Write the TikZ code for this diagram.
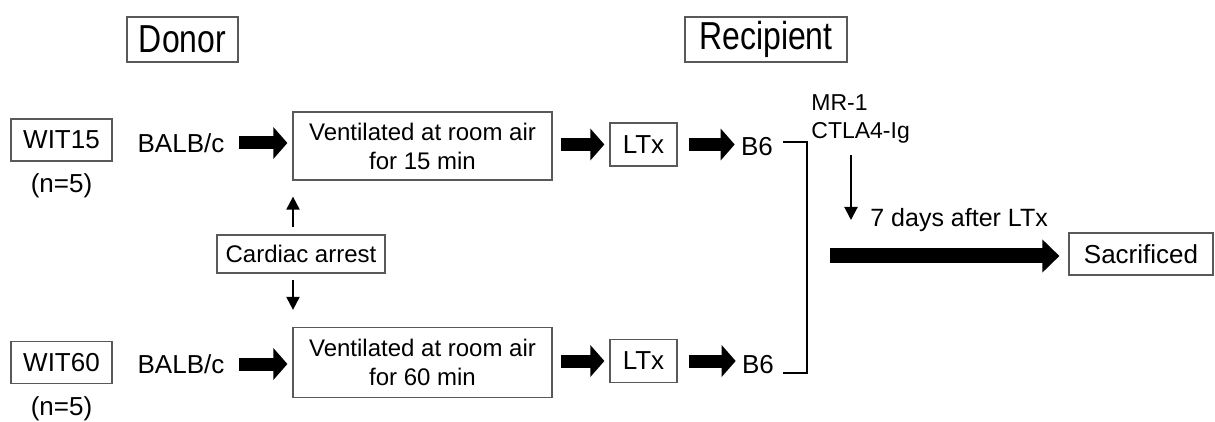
\documentclass[tikz,border=0pt]{standalone}
\usepackage{fontspec}
\setmainfont{Liberation Sans}
\newfontfamily\headfont[FakeStretch=0.82]{Liberation Sans}
\usetikzlibrary{arrows.meta,positioning}

\begin{document}
\begin{tikzpicture}[x=0.5pt,y=-0.5pt,
   box/.style={draw=black!65,line width=0.6pt,inner sep=0pt,align=center},
   lbl/.style={font=\fontsize{13}{15}\selectfont,inner sep=1pt},
   small/.style={font=\fontsize{12}{14.5}\selectfont},
   fatarrow/.style={line width=6.5pt,-{Triangle[length=7pt,width=15.5pt]}},
   bigarrow/.style={line width=7.5pt,-{Triangle[length=8.5pt,width=16pt]}},
   thinarrow/.style={line width=1pt,-{Triangle[length=6.5pt,width=6.5pt]}}]
   \useasboundingbox (0,0) rectangle (1215,422);
   % headings
   \node[box,minimum width=55.5pt,minimum height=22.5pt,font=\headfont\fontsize{19.5}{22}\selectfont] (donor) at (182.5,39.5) {Donor};
   \node[box,minimum width=81pt,minimum height=22.5pt,font=\headfont\fontsize{19.5}{22}\selectfont] (recip) at (766,39.5) {Recipient};
   % WIT15
   \node[box,lbl,minimum width=50.5pt,minimum height=21pt] (wit15) at (61.5,140) {WIT15};
   \node[lbl] (n15) [below=5pt of wit15] {(n=5)};
   \node[lbl] (balb15) at (181,143) {BALB/c};
   \node[box,small,minimum width=129.5pt,minimum height=34pt] (vent15) at (422.5,146) {Ventilated at room air\\for 15 min};
   \node[box,lbl,minimum width=33.5pt,minimum height=21.5pt] (ltx15) at (643.5,144.5) {LTx};
   \node[lbl] (b615) at (757,147) {B6};
   % WIT60
   \node[box,lbl,minimum width=50.5pt,minimum height=21pt] (wit60) at (61.5,362.5) {WIT60};
   \node[lbl] (n60) [below=5pt of wit60] {(n=5)};
   \node[lbl] (balb60) at (181,364) {BALB/c};
   \node[box,small,minimum width=129.5pt,minimum height=35pt] (vent60) at (422.5,362.5) {Ventilated at room air\\for 60 min};
   \node[box,lbl,minimum width=33.5pt,minimum height=21.5pt] (ltx60) at (643.5,361) {LTx};
   \node[lbl] (b660) at (758,365) {B6};
   % cardiac arrest
   \node[box,small,minimum width=84pt,minimum height=19pt] (arrest) at (301,254) {Cardiac arrest};
   \coordinate (up) at ([xshift=-4pt]arrest.north);
   \coordinate (dn) at ([xshift=-4pt]arrest.south);
   \draw[thinarrow,shorten <=3.5pt,shorten >=8pt] (up) -- (up |- vent15.south);
   \draw[thinarrow,shorten <=3pt,shorten >=8.5pt] (dn) -- (dn |- vent60.north);
   % recipient side
   \node[font=\fontsize{11.5}{14}\selectfont,align=left,inner sep=1pt,anchor=north west] (drugs) at (809,92) {MR-1\\CTLA4-Ig};
   \node[font=\fontsize{12.5}{15}\selectfont,inner sep=1pt,anchor=west] (days) at (868,220) {7 days after LTx};
   \node[box,lbl,minimum width=72pt,minimum height=21pt] (sac) at (1141,254) {Sacrificed};
   \coordinate (drop) at (851,220);
   \coordinate (go) at (830,256);
   % fat arrows
   \foreach \r in {15,60} {
     \draw[fatarrow,shorten <=6pt,shorten >=2.5pt] (balb\r.east) -- (balb\r.east -| vent\r.west);
     \draw[fatarrow,shorten <=4pt,shorten >=2.5pt] (vent\r.east |- ltx\r.west) -- (ltx\r.west);
     \draw[fatarrow,shorten <=5.5pt,shorten >=2pt] (ltx\r.east) -- (b6\r.west |- ltx\r.east);
   }
   \draw[line width=1pt] ([xshift=4pt,yshift=2.5pt]b615.east) -- ++(24,0) |- ([xshift=3.5pt,yshift=-4pt]b660.east);
   \draw[thinarrow,shorten <=5pt] (drop |- drugs.south) -- (drop);
   \draw[bigarrow,shorten >=4.5pt] (go) -- (go -| sac.west);
\end{tikzpicture}
\end{document}
